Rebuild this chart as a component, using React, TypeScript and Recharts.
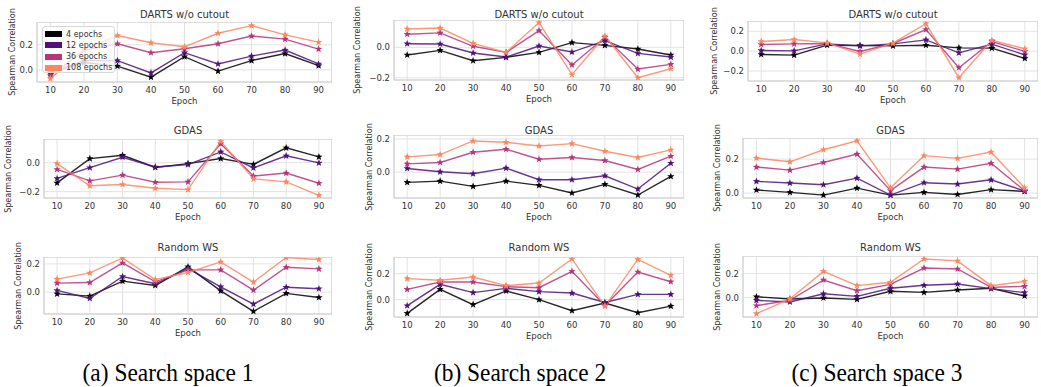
import React from 'react';
import { LineChart, Line, XAxis, YAxis, CartesianGrid, ReferenceArea } from 'recharts';

const epochs = [10, 20, 30, 40, 50, 60, 70, 80, 90];
const seriesNames = ['4 epochs', '12 epochs', '36 epochs', '108 epochs'];
const seriesColors = ['#000004', '#4f127b', '#b5367a', '#fb8761'];

// each panel: rows are 4 / 12 / 36 / 108 epochs
const s1Darts = [
  [-0.02, 0.058, 0.03, -0.058, 0.105, -0.01, 0.074, 0.13, 0.034],
  [-0.03, 0.075, 0.074, -0.024, 0.137, 0.047, 0.11, 0.158, 0.047],
  [-0.045, 0.155, 0.208, 0.137, 0.168, 0.208, 0.27, 0.245, 0.166],
  [-0.07, 0.16, 0.274, 0.216, 0.184, 0.292, 0.353, 0.279, 0.221],
];
const s2Darts = [
  [-0.05, -0.02, -0.088, -0.066, -0.033, 0.031, 0.013, -0.011, -0.05],
  [0.024, 0.022, -0.037, -0.064, 0.009, -0.031, 0.044, -0.04, -0.064],
  [0.086, 0.095, 0.007, -0.033, 0.11, -0.116, 0.066, -0.143, -0.112],
  [0.121, 0.127, 0.026, -0.033, 0.163, -0.18, 0.075, -0.2, -0.141],
];
const s3Darts = [
  [-0.033, -0.04, 0.06, 0.057, 0.053, 0.06, 0.033, 0.03, -0.073],
  [0.007, 0.003, 0.073, 0.053, 0.073, 0.113, -0.017, 0.07, -0.037],
  [0.067, 0.073, 0.077, -0.003, 0.077, 0.217, -0.167, 0.097, -0.003],
  [0.097, 0.117, 0.083, -0.03, 0.08, 0.277, -0.267, 0.11, 0.023],
];
const s1Gdas = [
  [-0.14, 0.028, 0.051, -0.033, -0.007, 0.028, -0.012, 0.102, 0.04],
  [-0.109, -0.035, 0.037, -0.03, -0.014, 0.074, -0.037, 0.047, -0.002],
  [-0.047, -0.126, -0.086, -0.135, -0.133, 0.13, -0.093, -0.072, -0.142],
  [-0.007, -0.16, -0.151, -0.177, -0.186, 0.147, -0.112, -0.133, -0.226],
];
const s2Gdas = [
  [-0.062, -0.054, -0.086, -0.054, -0.08, -0.126, -0.074, -0.138, -0.026],
  [0.022, 0.002, -0.01, 0.024, -0.046, -0.046, -0.022, -0.102, 0.054],
  [0.05, 0.058, 0.12, 0.138, 0.078, 0.088, 0.07, 0.016, 0.096],
  [0.092, 0.106, 0.188, 0.18, 0.158, 0.172, 0.126, 0.088, 0.134],
];
const s3Gdas = [
  [0.018, 0.004, -0.012, 0.029, -0.012, 0.004, -0.008, 0.02, 0.01],
  [0.069, 0.059, 0.049, 0.088, -0.012, 0.061, 0.053, 0.078, 0.012],
  [0.153, 0.135, 0.18, 0.229, 0.014, 0.153, 0.141, 0.175, 0.014],
  [0.206, 0.184, 0.255, 0.308, 0.031, 0.22, 0.204, 0.241, 0.031],
];
const s1Random = [
  [-0.012, -0.028, 0.078, 0.047, 0.179, 0.009, -0.136, -0.009, -0.038],
  [0.012, -0.045, 0.111, 0.059, 0.167, 0.038, -0.085, 0.035, 0.024],
  [0.064, 0.068, 0.207, 0.073, 0.158, 0.158, 0.014, 0.176, 0.165],
  [0.092, 0.136, 0.242, 0.089, 0.139, 0.214, 0.071, 0.245, 0.231],
];
const s2Random = [
  [-0.105, 0.079, -0.038, 0.067, 0.0, -0.085, -0.026, -0.1, -0.049],
  [-0.046, 0.118, 0.054, 0.087, 0.062, 0.051, -0.021, 0.041, 0.041],
  [0.079, 0.136, 0.136, 0.1, 0.092, 0.218, -0.044, 0.213, 0.138],
  [0.162, 0.149, 0.174, 0.108, 0.128, 0.313, -0.049, 0.31, 0.187],
];
const s3Random = [
  [0.008, -0.011, -0.003, -0.014, 0.053, 0.044, 0.064, 0.078, 0.014],
  [-0.022, -0.036, 0.033, 0.011, 0.078, 0.103, 0.114, 0.075, 0.042],
  [-0.067, -0.022, 0.147, 0.058, 0.111, 0.247, 0.239, 0.086, 0.094],
  [-0.133, -0.011, 0.219, 0.1, 0.128, 0.322, 0.306, 0.1, 0.136],
];

const captions = ['(a) Search space 1', '(b) Search space 2', '(c) Search space 3'];

const FONT = '"DejaVu Sans", sans-serif';
const TEXT = '#333333';
const Y_W = 40;
const X_H = 16;

// layout of every subplot (plot box in page pixels)
const panels = [
  { title: 'DARTS w/o cutout', series: s1Darts, domain: [-0.097, 0.382], ticks: [0, 0.2], box: { x: 37, y: 22, w: 295, h: 60 }, ylab: 12, ty: 15, legend: true },
  { title: 'DARTS w/o cutout', series: s2Darts, domain: [-0.215, 0.18], ticks: [-0.2, 0], box: { x: 394, y: 20, w: 290, h: 60 }, ylab: 357, ty: 15 },
  { title: 'DARTS w/o cutout', series: s3Darts, domain: [-0.3, 0.303], ticks: [-0.2, 0, 0.2], box: { x: 748, y: 21, w: 290, h: 60 }, ylab: 714, ty: 15 },
  { title: 'GDAS', series: s1Gdas, domain: [-0.244, 0.163], ticks: [-0.2, 0], box: { x: 44, y: 139, w: 288, h: 59 }, ylab: 8, ty: 131 },
  { title: 'GDAS', series: s2Gdas, domain: [-0.156, 0.224], ticks: [0, 0.2], box: { x: 394, y: 135, w: 290, h: 63 }, ylab: 369, ty: 131 },
  { title: 'GDAS', series: s3Gdas, domain: [-0.029, 0.324], ticks: [0, 0.2], box: { x: 743, y: 138, w: 295, h: 60 }, ylab: 717, ty: 131 },
  { title: 'Random WS', series: s1Random, domain: [-0.155, 0.249], ticks: [0, 0.2], box: { x: 44, y: 257, w: 288, h: 57 }, ylab: 18, ty: 248 },
  { title: 'Random WS', series: s2Random, domain: [-0.133, 0.328], ticks: [0, 0.2], box: { x: 394, y: 257, w: 290, h: 60 }, ylab: 369, ty: 248 },
  { title: 'Random WS', series: s3Random, domain: [-0.161, 0.347], ticks: [0, 0.2], box: { x: 743, y: 256, w: 295, h: 61 }, ylab: 717, ty: 248 },
];

const fmt = (v: number) => (v < -1e-9 ? '\u2212' : '') + Math.abs(v).toFixed(1);

const starPath = (cx: number, cy: number, r: number) => {
  let d = '';
  for (let k = 0; k < 10; k++) {
    const rad = k % 2 === 0 ? r : r * 0.42;
    const a = -Math.PI / 2 + (k * Math.PI) / 5;
    d += (k === 0 ? 'M' : 'L') + (cx + rad * Math.cos(a)).toFixed(2) + ',' + (cy + rad * Math.sin(a)).toFixed(2);
  }
  return d + 'Z';
};

const Panel = ({ p }: { p: any }) => {
  const { box } = p;
  const rows = epochs.map((e, i) => {
    const row: any = { epoch: e };
    p.series.forEach((s: number[], j: number) => {
      row[`s${j}`] = s[i];
    });
    return row;
  });

  return (
    <>
      <div
        style={{
          position: 'absolute', left: box.x, width: box.w, top: p.ty - 7, height: 14, lineHeight: '14px',
          textAlign: 'center', fontSize: 10, color: TEXT,
        }}
      >
        {p.title}
      </div>
      <div
        style={{
          position: 'absolute', left: p.ylab, top: box.y + box.h / 2, transform: 'translate(-50%, -50%) rotate(-90deg)',
          whiteSpace: 'nowrap', fontSize: 8, color: TEXT,
        }}
      >
        Spearman Correlation
      </div>
      <div
        style={{
          position: 'absolute', left: box.x + box.w / 2, top: box.y + box.h + 19, transform: 'translate(-50%, -50%)',
          whiteSpace: 'nowrap', fontSize: 8.5, color: TEXT,
        }}
      >
        Epoch
      </div>
      <div style={{ position: 'absolute', left: box.x - Y_W, top: box.y }}>
        <LineChart width={box.w + Y_W} height={box.h + X_H} data={rows} margin={{ top: 0, right: 0, bottom: 0, left: 0 }}>
          <CartesianGrid stroke="#e3e3e3" strokeWidth={1} />
          <XAxis
            dataKey="epoch"
            type="number"
            domain={[6, 94]}
            ticks={epochs}
            height={X_H}
            tickLine={false}
            axisLine={false}
            tickSize={0}
            tickMargin={5}
            interval={0}
            tick={{ fontSize: 8.5, fill: TEXT, fontFamily: FONT }}
          />
          <YAxis
            type="number"
            domain={p.domain}
            ticks={p.ticks}
            allowDataOverflow
            width={Y_W}
            tickLine={false}
            axisLine={false}
            tickSize={0}
            tickMargin={4}
            interval={0}
            tickFormatter={fmt}
            tick={{ fontSize: 8.5, fill: TEXT, fontFamily: FONT }}
          />
          <ReferenceArea x1={6} x2={94} y1={p.domain[0]} y2={p.domain[1]} fill="none" fillOpacity={0} stroke="#cccccc" strokeWidth={1} />
          {seriesNames.map((name, j) => (
            <Line
              key={name}
              dataKey={`s${j}`}
              name={name}
              stroke={seriesColors[j]}
              strokeOpacity={0.85}
              strokeWidth={1.4}
              isAnimationActive={false}
              dot={(d: any) => (
                <path key={`${name}-${d.index}`} d={starPath(d.cx, d.cy, 3.8)} fill={seriesColors[j]} />
              )}
            />
          ))}
        </LineChart>
      </div>
      {p.legend && (
        <div
          style={{
            position: 'absolute', left: 42, top: 26, width: 73, height: 47, boxSizing: 'border-box',
            border: '1px solid #d8d8d8', borderRadius: 3, background: 'rgba(255,255,255,0.8)',
          }}
        >
          {seriesNames.map((name, j) => (
            <div key={name} style={{ position: 'absolute', left: 2, top: 1.5 + j * 11.3, height: 11, display: 'flex', alignItems: 'center' }}>
              <span style={{ display: 'inline-block', width: 17, height: 6, background: seriesColors[j] }} />
              <span style={{ marginLeft: 4, fontSize: 8, color: TEXT, whiteSpace: 'nowrap' }}>{name}</span>
            </div>
          ))}
        </div>
      )}
    </>
  );
};

export default function App() {
  const capX = [168, 520, 877];
  return (
    <div style={{ position: 'absolute', left: 0, top: 0, width: 1041, height: 387, background: '#fff', fontFamily: FONT, overflow: 'hidden' }}>
      {panels.map((p, i) => (
        <Panel key={i} p={p} />
      ))}
      {captions.map((c, i) => (
        <div
          key={c}
          style={{
            position: 'absolute', left: capX[i], top: 372, transform: 'translate(-50%, -50%) scaleX(0.9)', whiteSpace: 'nowrap',
            fontFamily: '"Liberation Serif", serif', fontSize: 26, lineHeight: '27px', color: '#000',
          }}
        >
          {c}
        </div>
      ))}
    </div>
  );
}
